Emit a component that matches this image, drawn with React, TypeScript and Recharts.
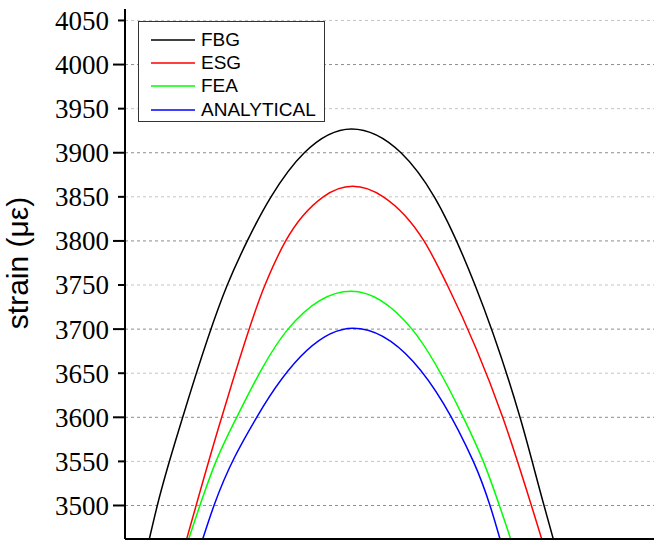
import { LineChart, Line, XAxis, YAxis, CartesianGrid, Legend } from "recharts";

// [x, strain] pairs
const FBG: [number, number][] = [
  [0.0739, 3462], [0.0982, 3500], [0.1754, 3600], [0.3109, 3750], [0.3717, 3800],
  [0.4438, 3850], [0.545, 3900], [0.6884, 3927], [0.8389, 3900], [0.9401, 3850],
  [1.0638, 3750], [1.2006, 3600], [1.2736, 3500], [1.3018, 3462],
];
const ESG: [number, number][] = [
  [0.1875, 3462], [0.2939, 3600], [0.4255, 3750], [0.4884, 3800], [0.6027, 3850],
  [0.6921, 3862], [0.7851, 3850], [0.9088, 3800], [0.9796, 3750], [1.148, 3600],
  [1.2666, 3462],
];
const FEA: [number, number][] = [
  [0.1936, 3462], [0.2766, 3550], [0.3395, 3600], [0.4954, 3700], [0.6869, 3743],
  [0.8723, 3700], [1.0283, 3600], [1.0891, 3550], [1.1723, 3462],
];
const ANALYTICAL: [number, number][] = [
  [0.2362, 3462], [0.2705, 3500], [0.4003, 3600], [0.693, 3701],
  [1.0587, 3550], [1.1094, 3500], [1.1398, 3462],
];

const SERIES = [
  { name: "FBG", color: "#000000", points: FBG },
  { name: "ESG", color: "#ff0000", points: ESG },
  { name: "FEA", color: "#00ff00", points: FEA },
  { name: "ANALYTICAL", color: "#0000ff", points: ANALYTICAL },
];

const Y_TICKS = [3500, 3550, 3600, 3650, 3700, 3750, 3800, 3850, 3900, 3950, 4000, 4050];
const MAJOR = Y_TICKS.filter((v) => v % 100 === 0);
const MINOR = Y_TICKS.filter((v) => v % 100 !== 0);

const SERIF = "'Liberation Serif', 'Times New Roman', serif";
const SANS = "'Liberation Sans', Arial, sans-serif";

const YTick = ({ x, y, payload }: any) => {
  const major = payload.value % 100 === 0;
  return (
    <g>
      <line x1={x - (major ? 12 : 7)} x2={x} y1={y} y2={y} stroke="#000" strokeWidth={2} />
      <text x={x - 16} y={y} dy="0.35em" textAnchor="end" fontSize={27} fill="#000" style={{ fontFamily: SERIF }}>
        {payload.value}
      </text>
    </g>
  );
};

const renderLegend = () => (
  <div
    style={{
      width: 187,
      height: 101,
      border: "1px solid #333",
      background: "#fff",
      fontFamily: SANS,
      fontSize: 19,
      paddingTop: 6,
      boxSizing: "border-box",
    }}
  >
    {SERIES.map((s) => (
      <div key={s.name} style={{ display: "flex", alignItems: "center", height: 23.3 }}>
        <svg width={44} height={4} style={{ marginLeft: 12, marginRight: 6 }}>
          <line x1={0} x2={44} y1={2} y2={2} stroke={s.color} strokeWidth={1.5} />
        </svg>
        <span>{s.name}</span>
      </div>
    ))}
  </div>
);

export default function App() {
  return (
    <div style={{ position: "absolute", left: 0, top: 0, width: 654, height: 551, overflow: "hidden", background: "#fff" }}>
      <LineChart width={800} height={551} margin={{ top: 9, right: 17, bottom: 0, left: 0 }}>
        <CartesianGrid horizontalValues={MINOR} vertical={false} stroke="#c4c4c4" strokeDasharray="3 3" />
        <CartesianGrid horizontalValues={MAJOR} vertical={false} stroke="#8c8c8c" strokeDasharray="3 3" />
        <CartesianGrid verticalValues={[1]} horizontal={false} stroke="#8c8c8c" strokeDasharray="2 3" />
        <XAxis
          type="number"
          dataKey="x"
          domain={[0, 2]}
          ticks={[0, 1, 2]}
          allowDataOverflow
          height={12}
          tickSize={12}
          tick={false}
          axisLine={{ stroke: "#000", strokeWidth: 2 }}
          tickLine={{ stroke: "#000", strokeWidth: 2 }}
        />
        <YAxis
          type="number"
          domain={[3462, 4063]}
          ticks={Y_TICKS}
          allowDataOverflow
          width={125}
          tickSize={0}
          tickMargin={0}
          tickLine={false}
          tick={<YTick />}
          axisLine={{ stroke: "#000", strokeWidth: 2 }}
          label={{
            content: () => (
              <text
                x={28}
                y={263}
                transform="rotate(-90 28 263)"
                textAnchor="middle"
                fontSize={30}
                fill="#000"
                style={{ fontFamily: SANS }}
              >
                strain (με)
              </text>
            ),
          }}
        />
        <Legend
          content={renderLegend}
          verticalAlign="middle"
          align="center"
          wrapperStyle={{ left: 138, top: 21, width: 187 }}
        />
        {SERIES.map((s) => (
          <Line
            key={s.name}
            name={s.name}
            data={s.points.map(([x, y]) => ({ x, y }))}
            dataKey="y"
            type="monotone"
            stroke={s.color}
            strokeWidth={1.5}
            dot={false}
            activeDot={false}
            isAnimationActive={false}
          />
        ))}
      </LineChart>
    </div>
  );
}
